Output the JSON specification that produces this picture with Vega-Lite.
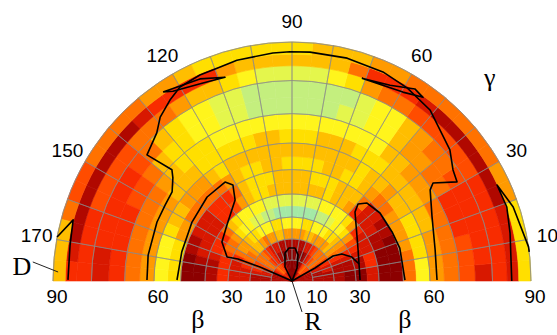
{
"$schema": "https://vega.github.io/schema/vega-lite/v6.json",
"width": 478, "height": 239,
"autosize": {"type": "none"},
"padding": {"left": 53, "top": 42, "right": 26, "bottom": 54},
"background": "white",
"config": {"view": {"stroke": null}},
"datasets": {
"rings": [{"b":0,"b2":5},{"b":5,"b2":10},{"b":10,"b2":15},{"b":15,"b2":20},{"b":20,"b2":25},{"b":25,"b2":30},{"b":30,"b2":35},{"b":35,"b2":40},{"b":40,"b2":45},{"b":45,"b2":50},{"b":50,"b2":55},{"b":55,"b2":60},{"b":60,"b2":65},{"b":65,"b2":70},{"b":70,"b2":75},{"b":75,"b2":80},{"b":80,"b2":84},{"b":84,"b2":87},{"b":87,"b2":90}],
"cells": [
{"b":0,"g":0,"v":1},{"b":0,"g":5,"v":1},{"b":0,"g":10,"v":1},{"b":0,"g":15,"v":1},{"b":0,"g":20,"v":1},{"b":0,"g":25,"v":1},{"b":0,"g":30,"v":2},{"b":0,"g":35,"v":2},{"b":0,"g":40,"v":3},{"b":0,"g":45,"v":3},{"b":0,"g":50,"v":2},{"b":0,"g":55,"v":1},{"b":0,"g":60,"v":0},{"b":0,"g":65,"v":0},{"b":0,"g":70,"v":0},{"b":0,"g":75,"v":0},{"b":0,"g":80,"v":0},{"b":0,"g":85,"v":0},{"b":0,"g":90,"v":0},{"b":0,"g":95,"v":0},{"b":0,"g":100,"v":0},{"b":0,"g":105,"v":0},{"b":0,"g":110,"v":0},{"b":0,"g":115,"v":0},{"b":0,"g":120,"v":1},{"b":0,"g":125,"v":2},{"b":0,"g":130,"v":2},{"b":0,"g":135,"v":3},{"b":0,"g":140,"v":3},{"b":0,"g":145,"v":2},{"b":0,"g":150,"v":1},{"b":0,"g":155,"v":1},{"b":0,"g":160,"v":1},{"b":0,"g":165,"v":1},{"b":0,"g":170,"v":1},{"b":0,"g":175,"v":1},
{"b":5,"g":0,"v":1},{"b":5,"g":5,"v":1},{"b":5,"g":10,"v":1},{"b":5,"g":15,"v":1},{"b":5,"g":20,"v":1},{"b":5,"g":25,"v":2},{"b":5,"g":30,"v":3},{"b":5,"g":35,"v":4},{"b":5,"g":40,"v":4},{"b":5,"g":45,"v":5},{"b":5,"g":50,"v":4},{"b":5,"g":55,"v":3},{"b":5,"g":60,"v":1},{"b":5,"g":65,"v":0},{"b":5,"g":70,"v":0},{"b":5,"g":75,"v":0},{"b":5,"g":80,"v":0},{"b":5,"g":85,"v":0},{"b":5,"g":90,"v":0},{"b":5,"g":95,"v":0},{"b":5,"g":100,"v":0},{"b":5,"g":105,"v":0},{"b":5,"g":110,"v":1},{"b":5,"g":115,"v":2},{"b":5,"g":120,"v":3},{"b":5,"g":125,"v":4},{"b":5,"g":130,"v":4},{"b":5,"g":135,"v":5},{"b":5,"g":140,"v":4},{"b":5,"g":145,"v":3},{"b":5,"g":150,"v":2},{"b":5,"g":155,"v":1},{"b":5,"g":160,"v":1},{"b":5,"g":165,"v":1},{"b":5,"g":170,"v":1},{"b":5,"g":175,"v":1},
{"b":10,"g":0,"v":1},{"b":10,"g":5,"v":1},{"b":10,"g":10,"v":1},{"b":10,"g":15,"v":1},{"b":10,"g":20,"v":2},{"b":10,"g":25,"v":2},{"b":10,"g":30,"v":4},{"b":10,"g":35,"v":5},{"b":10,"g":40,"v":5},{"b":10,"g":45,"v":4},{"b":10,"g":50,"v":3},{"b":10,"g":55,"v":2},{"b":10,"g":60,"v":1},{"b":10,"g":65,"v":0},{"b":10,"g":70,"v":0},{"b":10,"g":75,"v":0},{"b":10,"g":80,"v":0},{"b":10,"g":85,"v":0},{"b":10,"g":90,"v":0},{"b":10,"g":95,"v":0},{"b":10,"g":100,"v":0},{"b":10,"g":105,"v":0},{"b":10,"g":110,"v":1},{"b":10,"g":115,"v":1},{"b":10,"g":120,"v":2},{"b":10,"g":125,"v":3},{"b":10,"g":130,"v":3},{"b":10,"g":135,"v":4},{"b":10,"g":140,"v":5},{"b":10,"g":145,"v":5},{"b":10,"g":150,"v":4},{"b":10,"g":155,"v":3},{"b":10,"g":160,"v":2},{"b":10,"g":165,"v":2},{"b":10,"g":170,"v":1},{"b":10,"g":175,"v":1},
{"b":15,"g":0,"v":1},{"b":15,"g":5,"v":1},{"b":15,"g":10,"v":1},{"b":15,"g":15,"v":2},{"b":15,"g":20,"v":2},{"b":15,"g":25,"v":3},{"b":15,"g":30,"v":4},{"b":15,"g":35,"v":5},{"b":15,"g":40,"v":5},{"b":15,"g":45,"v":5},{"b":15,"g":50,"v":4},{"b":15,"g":55,"v":3},{"b":15,"g":60,"v":2},{"b":15,"g":65,"v":2},{"b":15,"g":70,"v":1},{"b":15,"g":75,"v":1},{"b":15,"g":80,"v":1},{"b":15,"g":85,"v":1},{"b":15,"g":90,"v":1},{"b":15,"g":95,"v":1},{"b":15,"g":100,"v":1},{"b":15,"g":105,"v":1},{"b":15,"g":110,"v":2},{"b":15,"g":115,"v":2},{"b":15,"g":120,"v":2},{"b":15,"g":125,"v":3},{"b":15,"g":130,"v":4},{"b":15,"g":135,"v":5},{"b":15,"g":140,"v":5},{"b":15,"g":145,"v":5},{"b":15,"g":150,"v":4},{"b":15,"g":155,"v":4},{"b":15,"g":160,"v":3},{"b":15,"g":165,"v":2},{"b":15,"g":170,"v":1},{"b":15,"g":175,"v":1},
{"b":20,"g":0,"v":1},{"b":20,"g":5,"v":1},{"b":20,"g":10,"v":1},{"b":20,"g":15,"v":1},{"b":20,"g":20,"v":2},{"b":20,"g":25,"v":3},{"b":20,"g":30,"v":5},{"b":20,"g":35,"v":6},{"b":20,"g":40,"v":7},{"b":20,"g":45,"v":6},{"b":20,"g":50,"v":6},{"b":20,"g":55,"v":6},{"b":20,"g":60,"v":6},{"b":20,"g":65,"v":7},{"b":20,"g":70,"v":7},{"b":20,"g":75,"v":6},{"b":20,"g":80,"v":6},{"b":20,"g":85,"v":6},{"b":20,"g":90,"v":6},{"b":20,"g":95,"v":6},{"b":20,"g":100,"v":7},{"b":20,"g":105,"v":7},{"b":20,"g":110,"v":6},{"b":20,"g":115,"v":6},{"b":20,"g":120,"v":5},{"b":20,"g":125,"v":6},{"b":20,"g":130,"v":7},{"b":20,"g":135,"v":7},{"b":20,"g":140,"v":6},{"b":20,"g":145,"v":5},{"b":20,"g":150,"v":5},{"b":20,"g":155,"v":4},{"b":20,"g":160,"v":3},{"b":20,"g":165,"v":2},{"b":20,"g":170,"v":2},{"b":20,"g":175,"v":2},
{"b":25,"g":0,"v":0},{"b":25,"g":5,"v":0},{"b":25,"g":10,"v":1},{"b":25,"g":15,"v":1},{"b":25,"g":20,"v":2},{"b":25,"g":25,"v":3},{"b":25,"g":30,"v":5},{"b":25,"g":35,"v":6},{"b":25,"g":40,"v":7},{"b":25,"g":45,"v":8},{"b":25,"g":50,"v":8},{"b":25,"g":55,"v":9},{"b":25,"g":60,"v":9},{"b":25,"g":65,"v":9},{"b":25,"g":70,"v":8},{"b":25,"g":75,"v":8},{"b":25,"g":80,"v":9},{"b":25,"g":85,"v":9},{"b":25,"g":90,"v":9},{"b":25,"g":95,"v":9},{"b":25,"g":100,"v":8},{"b":25,"g":105,"v":8},{"b":25,"g":110,"v":9},{"b":25,"g":115,"v":9},{"b":25,"g":120,"v":9},{"b":25,"g":125,"v":8},{"b":25,"g":130,"v":8},{"b":25,"g":135,"v":7},{"b":25,"g":140,"v":6},{"b":25,"g":145,"v":6},{"b":25,"g":150,"v":5},{"b":25,"g":155,"v":3},{"b":25,"g":160,"v":2},{"b":25,"g":165,"v":2},{"b":25,"g":170,"v":2},{"b":25,"g":175,"v":2},
{"b":30,"g":0,"v":0},{"b":30,"g":5,"v":0},{"b":30,"g":10,"v":1},{"b":30,"g":15,"v":1},{"b":30,"g":20,"v":2},{"b":30,"g":25,"v":3},{"b":30,"g":30,"v":4},{"b":30,"g":35,"v":6},{"b":30,"g":40,"v":8},{"b":30,"g":45,"v":9},{"b":30,"g":50,"v":9},{"b":30,"g":55,"v":10},{"b":30,"g":60,"v":11},{"b":30,"g":65,"v":11},{"b":30,"g":70,"v":12},{"b":30,"g":75,"v":12},{"b":30,"g":80,"v":12},{"b":30,"g":85,"v":12},{"b":30,"g":90,"v":12},{"b":30,"g":95,"v":12},{"b":30,"g":100,"v":12},{"b":30,"g":105,"v":11},{"b":30,"g":110,"v":11},{"b":30,"g":115,"v":10},{"b":30,"g":120,"v":10},{"b":30,"g":125,"v":9},{"b":30,"g":130,"v":9},{"b":30,"g":135,"v":8},{"b":30,"g":140,"v":6},{"b":30,"g":145,"v":5},{"b":30,"g":150,"v":5},{"b":30,"g":155,"v":4},{"b":30,"g":160,"v":3},{"b":30,"g":165,"v":3},{"b":30,"g":170,"v":3},{"b":30,"g":175,"v":3},
{"b":35,"g":0,"v":2},{"b":35,"g":5,"v":2},{"b":35,"g":10,"v":3},{"b":35,"g":15,"v":3},{"b":35,"g":20,"v":2},{"b":35,"g":25,"v":2},{"b":35,"g":30,"v":2},{"b":35,"g":35,"v":3},{"b":35,"g":40,"v":6},{"b":35,"g":45,"v":8},{"b":35,"g":50,"v":9},{"b":35,"g":55,"v":9},{"b":35,"g":60,"v":9},{"b":35,"g":65,"v":9},{"b":35,"g":70,"v":10},{"b":35,"g":75,"v":10},{"b":35,"g":80,"v":10},{"b":35,"g":85,"v":10},{"b":35,"g":90,"v":10},{"b":35,"g":95,"v":10},{"b":35,"g":100,"v":10},{"b":35,"g":105,"v":10},{"b":35,"g":110,"v":9},{"b":35,"g":115,"v":9},{"b":35,"g":120,"v":9},{"b":35,"g":125,"v":9},{"b":35,"g":130,"v":8},{"b":35,"g":135,"v":7},{"b":35,"g":140,"v":5},{"b":35,"g":145,"v":3},{"b":35,"g":150,"v":3},{"b":35,"g":155,"v":3},{"b":35,"g":160,"v":2},{"b":35,"g":165,"v":1},{"b":35,"g":170,"v":1},{"b":35,"g":175,"v":1},
{"b":40,"g":0,"v":0},{"b":40,"g":5,"v":0},{"b":40,"g":10,"v":0},{"b":40,"g":15,"v":0},{"b":40,"g":20,"v":1},{"b":40,"g":25,"v":1},{"b":40,"g":30,"v":2},{"b":40,"g":35,"v":2},{"b":40,"g":40,"v":2},{"b":40,"g":45,"v":3},{"b":40,"g":50,"v":6},{"b":40,"g":55,"v":7},{"b":40,"g":60,"v":7},{"b":40,"g":65,"v":8},{"b":40,"g":70,"v":7},{"b":40,"g":75,"v":7},{"b":40,"g":80,"v":7},{"b":40,"g":85,"v":7},{"b":40,"g":90,"v":7},{"b":40,"g":95,"v":7},{"b":40,"g":100,"v":7},{"b":40,"g":105,"v":8},{"b":40,"g":110,"v":8},{"b":40,"g":115,"v":7},{"b":40,"g":120,"v":6},{"b":40,"g":125,"v":4},{"b":40,"g":130,"v":3},{"b":40,"g":135,"v":3},{"b":40,"g":140,"v":2},{"b":40,"g":145,"v":2},{"b":40,"g":150,"v":2},{"b":40,"g":155,"v":2},{"b":40,"g":160,"v":2},{"b":40,"g":165,"v":1},{"b":40,"g":170,"v":0},{"b":40,"g":175,"v":0},
{"b":45,"g":0,"v":0},{"b":45,"g":5,"v":0},{"b":45,"g":10,"v":0},{"b":45,"g":15,"v":0},{"b":45,"g":20,"v":0},{"b":45,"g":25,"v":1},{"b":45,"g":30,"v":1},{"b":45,"g":35,"v":2},{"b":45,"g":40,"v":2},{"b":45,"g":45,"v":5},{"b":45,"g":50,"v":7},{"b":45,"g":55,"v":7},{"b":45,"g":60,"v":7},{"b":45,"g":65,"v":8},{"b":45,"g":70,"v":8},{"b":45,"g":75,"v":8},{"b":45,"g":80,"v":7},{"b":45,"g":85,"v":7},{"b":45,"g":90,"v":7},{"b":45,"g":95,"v":7},{"b":45,"g":100,"v":8},{"b":45,"g":105,"v":8},{"b":45,"g":110,"v":8},{"b":45,"g":115,"v":7},{"b":45,"g":120,"v":5},{"b":45,"g":125,"v":3},{"b":45,"g":130,"v":3},{"b":45,"g":135,"v":3},{"b":45,"g":140,"v":2},{"b":45,"g":145,"v":2},{"b":45,"g":150,"v":2},{"b":45,"g":155,"v":1},{"b":45,"g":160,"v":1},{"b":45,"g":165,"v":0},{"b":45,"g":170,"v":0},{"b":45,"g":175,"v":0},
{"b":50,"g":0,"v":5},{"b":50,"g":5,"v":5},{"b":50,"g":10,"v":5},{"b":50,"g":15,"v":6},{"b":50,"g":20,"v":6},{"b":50,"g":25,"v":6},{"b":50,"g":30,"v":6},{"b":50,"g":35,"v":5},{"b":50,"g":40,"v":5},{"b":50,"g":45,"v":6},{"b":50,"g":50,"v":7},{"b":50,"g":55,"v":8},{"b":50,"g":60,"v":8},{"b":50,"g":65,"v":7},{"b":50,"g":70,"v":7},{"b":50,"g":75,"v":8},{"b":50,"g":80,"v":8},{"b":50,"g":85,"v":8},{"b":50,"g":90,"v":8},{"b":50,"g":95,"v":7},{"b":50,"g":100,"v":7},{"b":50,"g":105,"v":8},{"b":50,"g":110,"v":8},{"b":50,"g":115,"v":7},{"b":50,"g":120,"v":6},{"b":50,"g":125,"v":5},{"b":50,"g":130,"v":5},{"b":50,"g":135,"v":5},{"b":50,"g":140,"v":5},{"b":50,"g":145,"v":5},{"b":50,"g":150,"v":6},{"b":50,"g":155,"v":6},{"b":50,"g":160,"v":8},{"b":50,"g":165,"v":8},{"b":50,"g":170,"v":8},{"b":50,"g":175,"v":8},
{"b":55,"g":0,"v":9},{"b":55,"g":5,"v":9},{"b":55,"g":10,"v":8},{"b":55,"g":15,"v":8},{"b":55,"g":20,"v":8},{"b":55,"g":25,"v":8},{"b":55,"g":30,"v":7},{"b":55,"g":35,"v":7},{"b":55,"g":40,"v":6},{"b":55,"g":45,"v":7},{"b":55,"g":50,"v":7},{"b":55,"g":55,"v":8},{"b":55,"g":60,"v":7},{"b":55,"g":65,"v":7},{"b":55,"g":70,"v":7},{"b":55,"g":75,"v":7},{"b":55,"g":80,"v":7},{"b":55,"g":85,"v":7},{"b":55,"g":90,"v":7},{"b":55,"g":95,"v":7},{"b":55,"g":100,"v":7},{"b":55,"g":105,"v":7},{"b":55,"g":110,"v":7},{"b":55,"g":115,"v":7},{"b":55,"g":120,"v":8},{"b":55,"g":125,"v":7},{"b":55,"g":130,"v":6},{"b":55,"g":135,"v":6},{"b":55,"g":140,"v":6},{"b":55,"g":145,"v":7},{"b":55,"g":150,"v":7},{"b":55,"g":155,"v":8},{"b":55,"g":160,"v":9},{"b":55,"g":165,"v":9},{"b":55,"g":170,"v":9},{"b":55,"g":175,"v":9},
{"b":60,"g":0,"v":6},{"b":60,"g":5,"v":6},{"b":60,"g":10,"v":6},{"b":60,"g":15,"v":6},{"b":60,"g":20,"v":7},{"b":60,"g":25,"v":7},{"b":60,"g":30,"v":7},{"b":60,"g":35,"v":7},{"b":60,"g":40,"v":7},{"b":60,"g":45,"v":7},{"b":60,"g":50,"v":8},{"b":60,"g":55,"v":8},{"b":60,"g":60,"v":8},{"b":60,"g":65,"v":7},{"b":60,"g":70,"v":7},{"b":60,"g":75,"v":7},{"b":60,"g":80,"v":8},{"b":60,"g":85,"v":8},{"b":60,"g":90,"v":8},{"b":60,"g":95,"v":7},{"b":60,"g":100,"v":7},{"b":60,"g":105,"v":8},{"b":60,"g":110,"v":8},{"b":60,"g":115,"v":8},{"b":60,"g":120,"v":8},{"b":60,"g":125,"v":8},{"b":60,"g":130,"v":7},{"b":60,"g":135,"v":7},{"b":60,"g":140,"v":7},{"b":60,"g":145,"v":6},{"b":60,"g":150,"v":6},{"b":60,"g":155,"v":6},{"b":60,"g":160,"v":6},{"b":60,"g":165,"v":6},{"b":60,"g":170,"v":6},{"b":60,"g":175,"v":6},
{"b":65,"g":0,"v":5},{"b":65,"g":5,"v":5},{"b":65,"g":10,"v":5},{"b":65,"g":15,"v":5},{"b":65,"g":20,"v":5},{"b":65,"g":25,"v":5},{"b":65,"g":30,"v":6},{"b":65,"g":35,"v":6},{"b":65,"g":40,"v":6},{"b":65,"g":45,"v":7},{"b":65,"g":50,"v":7},{"b":65,"g":55,"v":9},{"b":65,"g":60,"v":9},{"b":65,"g":65,"v":9},{"b":65,"g":70,"v":9},{"b":65,"g":75,"v":9},{"b":65,"g":80,"v":9},{"b":65,"g":85,"v":9},{"b":65,"g":90,"v":9},{"b":65,"g":95,"v":9},{"b":65,"g":100,"v":9},{"b":65,"g":105,"v":9},{"b":65,"g":110,"v":9},{"b":65,"g":115,"v":9},{"b":65,"g":120,"v":8},{"b":65,"g":125,"v":8},{"b":65,"g":130,"v":8},{"b":65,"g":135,"v":7},{"b":65,"g":140,"v":6},{"b":65,"g":145,"v":5},{"b":65,"g":150,"v":5},{"b":65,"g":155,"v":5},{"b":65,"g":160,"v":5},{"b":65,"g":165,"v":5},{"b":65,"g":170,"v":5},{"b":65,"g":175,"v":5},
{"b":70,"g":0,"v":4},{"b":70,"g":5,"v":4},{"b":70,"g":10,"v":4},{"b":70,"g":15,"v":3},{"b":70,"g":20,"v":3},{"b":70,"g":25,"v":3},{"b":70,"g":30,"v":5},{"b":70,"g":35,"v":5},{"b":70,"g":40,"v":6},{"b":70,"g":45,"v":6},{"b":70,"g":50,"v":7},{"b":70,"g":55,"v":9},{"b":70,"g":60,"v":9},{"b":70,"g":65,"v":10},{"b":70,"g":70,"v":10},{"b":70,"g":75,"v":11},{"b":70,"g":80,"v":11},{"b":70,"g":85,"v":11},{"b":70,"g":90,"v":11},{"b":70,"g":95,"v":11},{"b":70,"g":100,"v":11},{"b":70,"g":105,"v":10},{"b":70,"g":110,"v":10},{"b":70,"g":115,"v":9},{"b":70,"g":120,"v":9},{"b":70,"g":125,"v":8},{"b":70,"g":130,"v":8},{"b":70,"g":135,"v":7},{"b":70,"g":140,"v":5},{"b":70,"g":145,"v":4},{"b":70,"g":150,"v":4},{"b":70,"g":155,"v":3},{"b":70,"g":160,"v":3},{"b":70,"g":165,"v":3},{"b":70,"g":170,"v":3},{"b":70,"g":175,"v":3},
{"b":75,"g":0,"v":2},{"b":75,"g":5,"v":3},{"b":75,"g":10,"v":3},{"b":75,"g":15,"v":3},{"b":75,"g":20,"v":3},{"b":75,"g":25,"v":3},{"b":75,"g":30,"v":4},{"b":75,"g":35,"v":5},{"b":75,"g":40,"v":5},{"b":75,"g":45,"v":6},{"b":75,"g":50,"v":7},{"b":75,"g":55,"v":9},{"b":75,"g":60,"v":9},{"b":75,"g":65,"v":10},{"b":75,"g":70,"v":11},{"b":75,"g":75,"v":11},{"b":75,"g":80,"v":11},{"b":75,"g":85,"v":11},{"b":75,"g":90,"v":11},{"b":75,"g":95,"v":11},{"b":75,"g":100,"v":11},{"b":75,"g":105,"v":10},{"b":75,"g":110,"v":10},{"b":75,"g":115,"v":9},{"b":75,"g":120,"v":9},{"b":75,"g":125,"v":8},{"b":75,"g":130,"v":7},{"b":75,"g":135,"v":5},{"b":75,"g":140,"v":4},{"b":75,"g":145,"v":3},{"b":75,"g":150,"v":3},{"b":75,"g":155,"v":3},{"b":75,"g":160,"v":3},{"b":75,"g":165,"v":3},{"b":75,"g":170,"v":2},{"b":75,"g":175,"v":2},
{"b":80,"g":0,"v":3},{"b":80,"g":5,"v":3},{"b":80,"g":10,"v":3},{"b":80,"g":15,"v":3},{"b":80,"g":20,"v":3},{"b":80,"g":25,"v":3},{"b":80,"g":30,"v":4},{"b":80,"g":35,"v":4},{"b":80,"g":40,"v":4},{"b":80,"g":45,"v":4},{"b":80,"g":50,"v":4},{"b":80,"g":55,"v":5},{"b":80,"g":60,"v":5},{"b":80,"g":65,"v":6},{"b":80,"g":70,"v":8},{"b":80,"g":75,"v":9},{"b":80,"g":80,"v":10},{"b":80,"g":85,"v":10},{"b":80,"g":90,"v":10},{"b":80,"g":95,"v":10},{"b":80,"g":100,"v":9},{"b":80,"g":105,"v":8},{"b":80,"g":110,"v":7},{"b":80,"g":115,"v":7},{"b":80,"g":120,"v":6},{"b":80,"g":125,"v":5},{"b":80,"g":130,"v":5},{"b":80,"g":135,"v":5},{"b":80,"g":140,"v":4},{"b":80,"g":145,"v":4},{"b":80,"g":150,"v":4},{"b":80,"g":155,"v":4},{"b":80,"g":160,"v":3},{"b":80,"g":165,"v":3},{"b":80,"g":170,"v":3},{"b":80,"g":175,"v":3},
{"b":84,"g":0,"v":2},{"b":84,"g":5,"v":2},{"b":84,"g":10,"v":2},{"b":84,"g":15,"v":2},{"b":84,"g":20,"v":1},{"b":84,"g":25,"v":1},{"b":84,"g":30,"v":1},{"b":84,"g":35,"v":1},{"b":84,"g":40,"v":1},{"b":84,"g":45,"v":1},{"b":84,"g":50,"v":2},{"b":84,"g":55,"v":3},{"b":84,"g":60,"v":3},{"b":84,"g":65,"v":3},{"b":84,"g":70,"v":5},{"b":84,"g":75,"v":7},{"b":84,"g":80,"v":7},{"b":84,"g":85,"v":7},{"b":84,"g":90,"v":7},{"b":84,"g":95,"v":7},{"b":84,"g":100,"v":7},{"b":84,"g":105,"v":6},{"b":84,"g":110,"v":3},{"b":84,"g":115,"v":3},{"b":84,"g":120,"v":3},{"b":84,"g":125,"v":3},{"b":84,"g":130,"v":2},{"b":84,"g":135,"v":1},{"b":84,"g":140,"v":1},{"b":84,"g":145,"v":1},{"b":84,"g":150,"v":1},{"b":84,"g":155,"v":1},{"b":84,"g":160,"v":1},{"b":84,"g":165,"v":1},{"b":84,"g":170,"v":2},{"b":84,"g":175,"v":3},
{"b":87,"g":0,"v":8},{"b":87,"g":5,"v":8},{"b":87,"g":10,"v":8},{"b":87,"g":15,"v":8},{"b":87,"g":20,"v":6},{"b":87,"g":25,"v":6},{"b":87,"g":30,"v":5},{"b":87,"g":35,"v":5},{"b":87,"g":40,"v":5},{"b":87,"g":45,"v":5},{"b":87,"g":50,"v":5},{"b":87,"g":55,"v":5},{"b":87,"g":60,"v":6},{"b":87,"g":65,"v":6},{"b":87,"g":70,"v":7},{"b":87,"g":75,"v":7},{"b":87,"g":80,"v":7},{"b":87,"g":85,"v":8},{"b":87,"g":90,"v":8},{"b":87,"g":95,"v":8},{"b":87,"g":100,"v":8},{"b":87,"g":105,"v":8},{"b":87,"g":110,"v":8},{"b":87,"g":115,"v":7},{"b":87,"g":120,"v":6},{"b":87,"g":125,"v":6},{"b":87,"g":130,"v":5},{"b":87,"g":135,"v":5},{"b":87,"g":140,"v":5},{"b":87,"g":145,"v":5},{"b":87,"g":150,"v":4},{"b":87,"g":155,"v":4},{"b":87,"g":160,"v":5},{"b":87,"g":165,"v":7},{"b":87,"g":170,"v":7},{"b":87,"g":175,"v":7}
],
"circles": [{"b":10},{"b":20},{"b":30},{"b":40},{"b":50},{"b":60},{"b":70},{"b":80},{"b":90}],
"spokes": [{"g":10},{"g":20},{"g":30},{"g":40},{"g":50},{"g":60},{"g":70},{"g":80},{"g":90},{"g":100},{"g":110},{"g":120},{"g":130},{"g":140},{"g":150},{"g":160},{"g":170}],
"contours": [
{"c":"A","b":51.4,"g":179.5},{"c":"A","b":51.0,"g":165.2},{"c":"A","b":51.8,"g":149.5},{"c":"A","b":53.1,"g":135.3},{"c":"A","b":53.1,"g":124.1},{"c":"A","b":50.5,"g":121.6},{"c":"A","b":45.0,"g":125.1},{"c":"A","b":39.5,"g":139.3},{"c":"A","b":37.1,"g":150.9},{"c":"A","b":32.3,"g":159.7},{"c":"A","b":27.4,"g":157.8},{"c":"A","b":16.6,"g":156.4},{"c":"A","b":0,"g":157},
{"c":"B","b":62.5,"g":179.6},{"c":"B","b":62.9,"g":169.8},{"c":"B","b":63.3,"g":156.4},{"c":"B","b":63.5,"g":149.1},{"c":"B","b":64.0,"g":143.4},{"c":"B","b":66.8,"g":139.1},{"c":"B","b":68.8,"g":137.2},{"c":"B","b":77.6,"g":139.0},{"c":"B","b":80.0,"g":132.4},{"c":"B","b":82.7,"g":128.8},{"c":"B","b":84.8,"g":124.0},{"c":"B","b":86.3,"g":120.0},{"c":"B","b":86.7,"g":114.1},{"c":"B","b":86.7,"g":109.4},{"c":"B","b":87.2,"g":104.0},{"c":"B","b":87.5,"g":94.8},{"c":"B","b":87.6,"g":90.5},{"c":"B","b":87.7,"g":85.5},{"c":"B","b":87.7,"g":76.1},{"c":"B","b":87.3,"g":66.5},{"c":"B","b":86.5,"g":59.2},{"c":"B","b":85.2,"g":51.1},{"c":"B","b":81.3,"g":39.7},{"c":"B","b":78.6,"g":34.6},{"c":"B","b":77.7,"g":31.0},{"c":"B","b":71.4,"g":34.8},{"c":"B","b":69.4,"g":33.4},{"c":"B","b":65.6,"g":24.6},{"c":"B","b":63.0,"g":12.2},{"c":"B","b":62.5,"g":0.4},
{"c":"C","b":87.5,"g":124.3},{"c":"C","b":85.8,"g":114.5},{"c":"C","b":83.8,"g":108.2},{"c":"C","b":84.5,"g":114.2},{"c":"C","b":86.3,"g":122.1},{"c":"C","b":87.5,"g":124.3},
{"c":"D","b":83.8,"g":71.0},{"c":"D","b":85.0,"g":63.4},{"c":"D","b":87.3,"g":57.4},{"c":"D","b":86.7,"g":54.5},{"c":"D","b":85.0,"g":59.6},{"c":"D","b":84.0,"g":66.8},{"c":"D","b":83.8,"g":71.0},
{"c":"E","b":31.8,"g":0.8},{"c":"E","b":34.3,"g":26.6},{"c":"E","b":42.7,"g":47.6},{"c":"E","b":46.0,"g":49.4},{"c":"E","b":48.7,"g":46.1},{"c":"E","b":49.9,"g":37.7},{"c":"E","b":50.0,"g":26.1},{"c":"E","b":50.5,"g":17.0},{"c":"E","b":50.6,"g":0.5},
{"c":"F","b":0,"g":30},{"c":"F","b":12.6,"g":29.5},{"c":"F","b":22.7,"g":31.4},{"c":"F","b":26.7,"g":28.4},{"c":"F","b":30.2,"g":21.8},{"c":"F","b":32.3,"g":14.2},
{"c":"G","b":0,"g":90},{"c":"G","b":7.5,"g":116.6},{"c":"G","b":13.8,"g":104.0},{"c":"G","b":15.8,"g":95.2},{"c":"G","b":15.8,"g":84.8},{"c":"G","b":12.8,"g":77.0},{"c":"G","b":6.7,"g":69.0},{"c":"G","b":0,"g":90},
{"c":"H","b":85.2,"g":0},{"c":"H","b":86.1,"g":12.4},{"c":"H","b":87.1,"g":19.0},{"c":"H","b":86.9,"g":25.1},{"c":"H","b":88.6,"g":18.5},{"c":"H","b":90,"g":8.2},{"c":"H","b":90,"g":7},
{"c":"I","b":90,"g":169.4},{"c":"I","b":87.1,"g":164.4},{"c":"I","b":86.5,"g":170.8},{"c":"I","b":86.3,"g":179.7}
],
"pointers": [{"c":"D","b":94.8,"g":175.8},{"c":"D","b":88.8,"g":177.8},{"c":"R","b":15.5,"g":-72.1},{"c":"R","b":0,"g":0}],
"gticks": [{"t":"10","g":10},{"t":"30","g":30},{"t":"60","g":60},{"t":"90","g":90},{"t":"120","g":120},{"t":"150","g":150},{"t":"170","g":170}],
"bticks": [{"b":90,"g":180},{"b":60,"g":180},{"b":30,"g":180},{"b":10,"g":180},{"b":10,"g":0},{"b":30,"g":0},{"b":60,"g":0},{"b":90,"g":0}],
"notes": [{"t":"β","b":47.5,"g":206.6},{"t":"β","b":54.2,"g":337.4},{"t":"R","b":25.1,"g":293.2},{"t":"D","b":97.0,"g":178.7},{"t":"γ","b":98.6,"g":44.6}]
},
"layer": [
{
"data": {"name": "cells"},
"transform": [
{"lookup": "b", "from": {"data": {"name": "rings"}, "key": "b", "fields": ["b2"]}},
{"calculate": "datum.g + 5", "as": "g2"},
{"calculate": "tan(datum.b * PI / 360)", "as": "r1"},
{"calculate": "tan(datum.b2 * PI / 360)", "as": "r2"}
],
"mark": {"type": "arc", "y": "height", "strokeWidth": 0.6},
"encoding": {
"theta": {"field": "g", "type": "quantitative", "stack": null, "scale": {"domain": [0, 180], "range": [1.5707963, -1.5707963], "nice": false, "zero": false}},
"theta2": {"field": "g2"},
"radius": {"field": "r2", "type": "quantitative", "stack": null, "scale": {"type": "linear", "domain": [0, 1], "range": [0, 239], "nice": false, "zero": true}},
"radius2": {"field": "r1"},
"color": {"field": "v", "type": "quantitative", "legend": null, "scale": {"domain": [0,1,2,3,4,5,6,7,8,9,10,11,12], "range": ["#8c0000","#b00800","#d81800","#f82c00","#ff4c00","#ff7200","#ff9a00","#ffbe00","#ffdf00","#fff51c","#e4f64c","#c4ef7e","#a4e9a6"]}},
"stroke": {"field": "v", "type": "quantitative", "legend": null, "scale": {"domain": [0,1,2,3,4,5,6,7,8,9,10,11,12], "range": ["#8c0000","#b00800","#d81800","#f82c00","#ff4c00","#ff7200","#ff9a00","#ffbe00","#ffdf00","#fff51c","#e4f64c","#c4ef7e","#a4e9a6"]}}
}
},
{
"data": {"name": "circles"},
"transform": [{"calculate": "tan(datum.b * PI / 360)", "as": "r"}],
"mark": {"type": "arc", "y": "height", "theta": -1.5707963, "theta2": 1.5707963, "filled": false, "stroke": "#8a8a8a", "strokeWidth": 0.8, "strokeOpacity": 0.75},
"encoding": {
"radius": {"field": "r", "type": "quantitative", "stack": null},
"radius2": {"field": "r"}
}
},
{
"data": {"name": "spokes"},
"mark": {"type": "arc", "y": "height", "filled": false, "stroke": "#8a8a8a", "strokeWidth": 0.8, "strokeOpacity": 0.75},
"encoding": {
"theta": {"field": "g", "type": "quantitative", "stack": null},
"theta2": {"field": "g"},
"radius": {"datum": 1},
"radius2": {"datum": 0.0875}
}
},
{
"data": {"name": "contours"},
"transform": [
{"calculate": "tan(datum.b * PI / 360)", "as": "r"},
{"calculate": "datum.r * cos(datum.g * PI / 180)", "as": "x"},
{"calculate": "datum.r * sin(datum.g * PI / 180)", "as": "y"}
],
"mark": {"type": "line", "color": "black", "strokeWidth": 1.6, "strokeJoin": "round"},
"encoding": {
"x": {"field": "x", "type": "quantitative", "axis": null, "scale": {"domain": [-1, 1], "nice": false, "zero": false}},
"y": {"field": "y", "type": "quantitative", "axis": null, "scale": {"domain": [0, 1], "nice": false, "zero": false}},
"detail": {"field": "c", "type": "nominal"},
"order": {"value": null}
}
},
{
"data": {"name": "pointers"},
"transform": [
{"calculate": "tan(datum.b * PI / 360)", "as": "r"},
{"calculate": "datum.r * cos(datum.g * PI / 180)", "as": "x"},
{"calculate": "datum.r * sin(datum.g * PI / 180)", "as": "y"}
],
"mark": {"type": "line", "color": "#222222", "strokeWidth": 1},
"encoding": {
"x": {"field": "x", "type": "quantitative", "axis": null},
"y": {"field": "y", "type": "quantitative", "axis": null},
"detail": {"field": "c", "type": "nominal"},
"order": {"value": null}
}
},
{
"data": {"name": "gticks"},
"mark": {"type": "text", "y": "height", "font": "Liberation Sans", "fontSize": 19, "align": "center", "baseline": "middle", "color": "black"},
"encoding": {
"theta": {"field": "g", "type": "quantitative", "stack": null},
"radius": {"datum": 1.085},
"text": {"field": "t", "type": "nominal"}
}
},
{
"data": {"name": "bticks"},
"transform": [{"calculate": "tan(datum.b * PI / 360)", "as": "r"}],
"mark": {"type": "text", "y": "height", "dy": 16, "dx": 4, "font": "Liberation Sans", "fontSize": 19, "align": "center", "baseline": "middle", "color": "black"},
"encoding": {
"theta": {"field": "g", "type": "quantitative", "stack": null},
"radius": {"field": "r", "type": "quantitative", "stack": null},
"text": {"field": "b", "type": "quantitative"}
}
},
{
"data": {"name": "notes"},
"transform": [
{"calculate": "tan(datum.b * PI / 360)", "as": "r"},
{"calculate": "datum.r * cos(datum.g * PI / 180)", "as": "x"},
{"calculate": "datum.r * sin(datum.g * PI / 180)", "as": "y"}
],
"mark": {"type": "text", "font": "Liberation Serif", "fontSize": 26, "align": "center", "baseline": "alphabetic", "color": "black"},
"encoding": {
"x": {"field": "x", "type": "quantitative", "axis": null},
"y": {"field": "y", "type": "quantitative", "axis": null},
"text": {"field": "t", "type": "nominal"}
}
}
]
}
